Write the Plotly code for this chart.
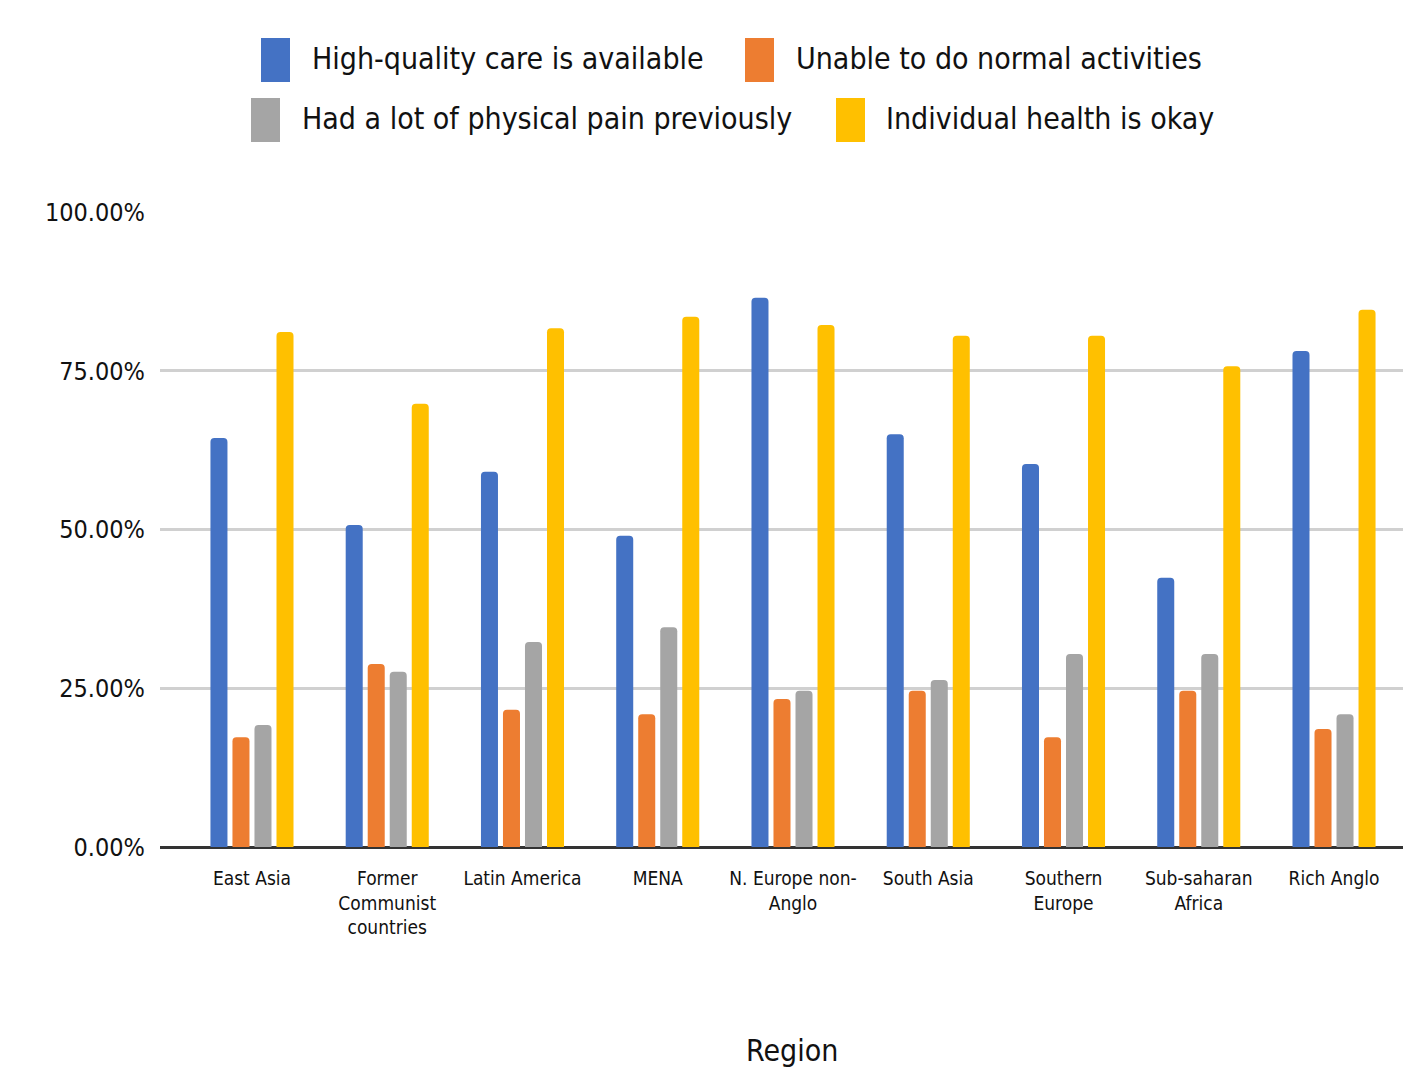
import plotly.graph_objects as go

# Share of respondents by region
regions = [
    "East Asia",
    "Former<br>Communist<br>countries",
    "Latin America",
    "MENA",
    "N. Europe non-<br>Anglo",
    "South Asia",
    "Southern<br>Europe",
    "Sub-saharan<br>Africa",
    "Rich Anglo",
]

series_names = [
    "High-quality care is available",
    "Unable to do normal activities",
    "Had a lot of physical pain previously",
    "Individual health is okay",
]

high_quality_care = [64.4, 50.7, 59.1, 49.0, 86.5, 65.0, 60.3, 42.4, 78.1]
unable_normal_activities = [17.3, 28.8, 21.6, 20.9, 23.3, 24.6, 17.3, 24.6, 18.6]
physical_pain = [19.2, 27.6, 32.3, 34.6, 24.6, 26.3, 30.4, 30.4, 20.9]
health_okay = [81.1, 69.8, 81.7, 83.5, 82.2, 80.5, 80.5, 75.7, 84.6]

y_ticks = [0, 25, 50, 75, 100]
y_tick_labels = ["0.00%", "25.00%", "50.00%", "75.00%", "100.00%"]
x_title = "Region"

series_values = [high_quality_care, unable_normal_activities, physical_pain, health_okay]
colors = ["#4472C4", "#ED7D31", "#A5A5A5", "#FFC000"]

FONT = "DejaVu Sans Condensed, Liberation Sans Narrow, sans-serif"

W, H = 1403, 1072
ML, MR, MT, MB = 160, 0, 212, 225

fig = go.Figure()
for name, vals, col in zip(series_names, series_values, colors):
    fig.add_trace(go.Bar(
        x=regions, y=vals, name=name, marker_color=col,
        marker_line_width=0, showlegend=False,
    ))


def px_to_paper(xp, yp):
    pw = W - ML - MR
    ph = H - MT - MB
    return (xp - ML) / pw, (H - MB - yp) / ph


# Legend drawn as swatches with labels, two centred rows
legend_items = [
    (0, 261, 60, 310),
    (1, 745, 60, 794),
    (2, 251, 120, 300),
    (3, 836, 120, 884),
]
for idx, sx, cy, tx in legend_items:
    x0, y0 = px_to_paper(sx, cy + 22)
    x1, y1 = px_to_paper(sx + 29, cy - 22)
    fig.add_shape(type="rect", xref="paper", yref="paper",
                  x0=x0, y0=y0, x1=x1, y1=y1,
                  fillcolor=colors[idx], line_width=0)
    ax, ay = px_to_paper(tx, cy - 2)
    fig.add_annotation(xref="paper", yref="paper", x=ax, y=ay,
                       xanchor="left", yanchor="middle", showarrow=False,
                       text=series_names[idx],
                       font=dict(family=FONT, size=30, color="#111"))

# x-axis title, placed under the category labels
tx, ty = px_to_paper(792, 1050)
fig.add_annotation(xref="paper", yref="paper", x=tx, y=ty,
                   xanchor="center", yanchor="middle", showarrow=False,
                   text=x_title, font=dict(family=FONT, size=30, color="#111"))

fig.update_layout(
    width=W, height=H,
    margin=dict(l=ML, r=MR, t=MT, b=MB),
    paper_bgcolor="white", plot_bgcolor="white",
    barmode="group", bargap=0.349, bargroupgap=0.227,
    barcornerradius=4,
    font=dict(family=FONT, color="#111"),
)
fig.update_xaxes(
    range=[-0.68, 8.51],
    showgrid=False, showline=False, ticks="",
    tickfont=dict(family=FONT, size=19, color="#111"),
    ticklabelstandoff=18,
)
fig.update_yaxes(
    range=[0, 100], tickmode="array", tickvals=y_ticks, ticktext=y_tick_labels,
    showgrid=True, gridcolor="#d0d0d0", gridwidth=3,
    zeroline=True, zerolinecolor="#333333", zerolinewidth=3,
    showline=False, ticks="",
    tickfont=dict(family=FONT, size=25, color="#111"),
    ticklabelstandoff=14,
)

fig.write_html("out.html")
